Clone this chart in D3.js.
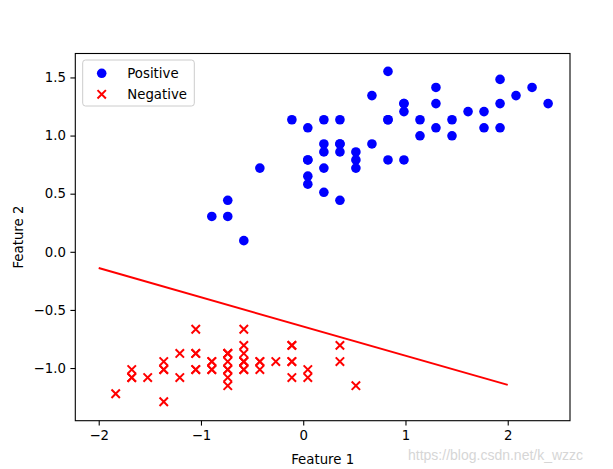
<!DOCTYPE html>
<html>
<head>
<meta charset="utf-8">
<script src="https://cdn.jsdelivr.net/npm/d3@7"></script>
<style>
  html, body { margin: 0; padding: 0; background: #fff; }
  svg { display: block; }
  text { font-family: "DejaVu Sans", sans-serif; }
</style>
</head>
<body>
<svg id="chart" width="613" height="469"></svg>
<script>
// Positive class (blue circles)
const posX = [2.395, 1.455, 2.238, 0.045, 1.612, 0.359, 1.298, -0.894, 1.768, -0.424,
              -0.738, 0.672, 0.829, 0.985, 0.202, 1.925, 0.202, 0.515, 1.142, 0.202,
              0.672, 0.985, 1.298, 0.985, 1.455, 1.768, 2.081, 1.925, 0.829, 0.359,
              0.045, 0.045, 0.515, 0.829, -0.111, 0.829, 1.925, 1.298, 0.202, 0.045,
              0.045, 0.985, 0.515, -0.738, 0.202, 0.359, 0.359, 1.142, -0.581, 0.359];
const posY = [1.275, 1.136, 1.414, 0.790, 1.206, 1.136, 1.275, 0.304, 1.206, 0.720,
              0.443, 0.928, 0.790, 1.275, 0.512, 1.067, 1.136, 0.859, 1.136, 0.720,
              1.344, 0.790, 1.414, 1.275, 0.998, 1.067, 1.344, 1.483, 1.136, 0.443,
              0.651, 0.582, 0.720, 1.552, 1.136, 1.136, 1.275, 1.067, 0.859, 0.790,
              1.067, 1.206, 0.790, 0.304, 0.928, 0.928, 0.928, 0.998, 0.096, 0.859];
// Negative class (red crosses)
const negX = [-0.581, -0.894, -1.207, -1.364, -0.738, -0.111, -1.364, -0.738, -1.677, -0.894,
              -0.111, -1.051, -1.051, -1.834, 0.515, 0.359, -0.111, -0.581, 0.359, -0.581,
              -0.111, -0.581, -1.364, -0.581, -1.051, -0.738, -0.738, -0.424, -0.424, -1.207,
              -1.051, -0.111, -0.424, 0.045, -0.894, -0.738, 0.045, -0.894, -1.677, -0.581,
              -0.738, -1.521, -1.677, -0.738, -0.581, -1.051, -0.581, -1.364, -0.268, -0.738];
const negY = [-1.013, -1.013, -1.082, -0.944, -1.013, -0.805, -1.013, -0.944, -1.013, -0.944,
              -0.944, -0.874, -1.013, -1.221, -1.152, -0.944, -1.082, -1.013, -0.805, -0.944,
              -0.805, -0.944, -1.290, -0.805, -0.666, -0.874, -0.874, -0.944, -1.013, -0.874,
              -0.874, -0.944, -0.944, -1.013, -0.944, -1.152, -1.082, -1.013, -1.082, -0.944,
              -1.082, -1.082, -1.082, -0.874, -0.666, -1.013, -0.874, -1.013, -0.944, -1.013];
// Decision boundary
const lineX = [-2, 2];
const lineY = [-0.14, -1.145];
// Ticks
const xTicks = [-2, -1, 0, 1, 2];
const yTicks = [-1.0, -0.5, 0.0, 0.5, 1.0, 1.5];
const legendLabels = ["Positive", "Negative"];

const svg = d3.select("#chart");
const L = 75.3, R = 570, T = 53.5, B = 420.7;
const x = d3.scaleLinear().domain([-2.229, 2.609]).range([L, R]);
const y = d3.scaleLinear().domain([-1.453, 1.706]).range([B, T]);
const fmtY = v => d3.format(".1f")(v).replace("-", "\u2212");
const fmtX = v => d3.format("d")(v).replace("-", "\u2212");

// Axes
const xAxis = d3.axisBottom(x).tickValues(xTicks).tickFormat(fmtX).tickSize(4.9).tickPadding(4.5);
const yAxis = d3.axisLeft(y).tickValues(yTicks).tickFormat(fmtY).tickSize(4.9).tickPadding(4.5);
const gx = svg.append("g").attr("transform", `translate(0,${B})`).call(xAxis);
const gy = svg.append("g").attr("transform", `translate(${L},0)`).call(yAxis);
[gx, gy].forEach(g => {
  g.select(".domain").remove();
  g.selectAll(".tick line").attr("stroke", "#000").attr("stroke-width", 1.1);
  g.selectAll(".tick text").attr("fill", "#000").style("font-size", "13.3px")
    .style("font-family", "DejaVu Sans, sans-serif");
});

// Data
const pos = posX.map((v, i) => [v, posY[i]]);
const neg = negX.map((v, i) => [v, negY[i]]);

svg.append("g").selectAll("circle").data(pos).join("circle")
  .attr("cx", d => x(d[0])).attr("cy", d => y(d[1])).attr("r", 4.8)
  .attr("fill", "#0000ff");

const s = 4.2;
svg.append("g").selectAll("path").data(neg).join("path")
  .attr("d", d => {
    const cx = x(d[0]), cy = y(d[1]);
    return `M${cx - s},${cy - s}L${cx + s},${cy + s}M${cx - s},${cy + s}L${cx + s},${cy - s}`;
  })
  .attr("stroke", "#ff0000").attr("stroke-width", 2).attr("fill", "none");

const line = d3.line().x(d => x(d[0])).y(d => y(d[1]));
svg.append("path").datum(lineX.map((v, i) => [v, lineY[i]]))
  .attr("d", line).attr("stroke", "#ff0000").attr("stroke-width", 2).attr("fill", "none");

// Frame
svg.append("rect").attr("x", L).attr("y", T).attr("width", R - L).attr("height", B - T)
  .attr("fill", "none").attr("stroke", "#000").attr("stroke-width", 1.1);

// Axis labels
svg.append("text").attr("x", (L + R) / 2).attr("y", 464).attr("text-anchor", "middle")
  .style("font-size", "13.3px").text("Feature 1");
svg.append("text").attr("transform", `translate(23,${(T + B) / 2}) rotate(-90)`)
  .attr("text-anchor", "middle").style("font-size", "13.3px").text("Feature 2");

// Legend
const lg = svg.append("g");
lg.append("rect").attr("x", 82.7).attr("y", 60).attr("width", 111.6).attr("height", 46)
  .attr("rx", 2.8).attr("fill", "#fff").attr("fill-opacity", 0.8)
  .attr("stroke", "#cccccc").attr("stroke-width", 1);
lg.append("circle").attr("cx", 101.7).attr("cy", 73.3).attr("r", 4.8).attr("fill", "#0000ff");
const lx = 101.7, ly = 94.3;
lg.append("path").attr("d", `M${lx - s},${ly - s}L${lx + s},${ly + s}M${lx - s},${ly + s}L${lx + s},${ly - s}`)
  .attr("stroke", "#ff0000").attr("stroke-width", 2);
lg.selectAll("text.lab").data(legendLabels).join("text").attr("class", "lab")
  .attr("x", 127.3).attr("y", (d, i) => 78 + i * 21)
  .style("font-size", "13.3px").attr("fill", "#000").text(d => d);

// Watermark
svg.append("text").attr("x", 408).attr("y", 460)
  .style("font-family", "Liberation Sans, Arial, sans-serif").style("font-size", "14px")
  .attr("fill", "#d6d6d6").text("https://blog.csdn.net/k_wzzc");
</script>
</body>
</html>
